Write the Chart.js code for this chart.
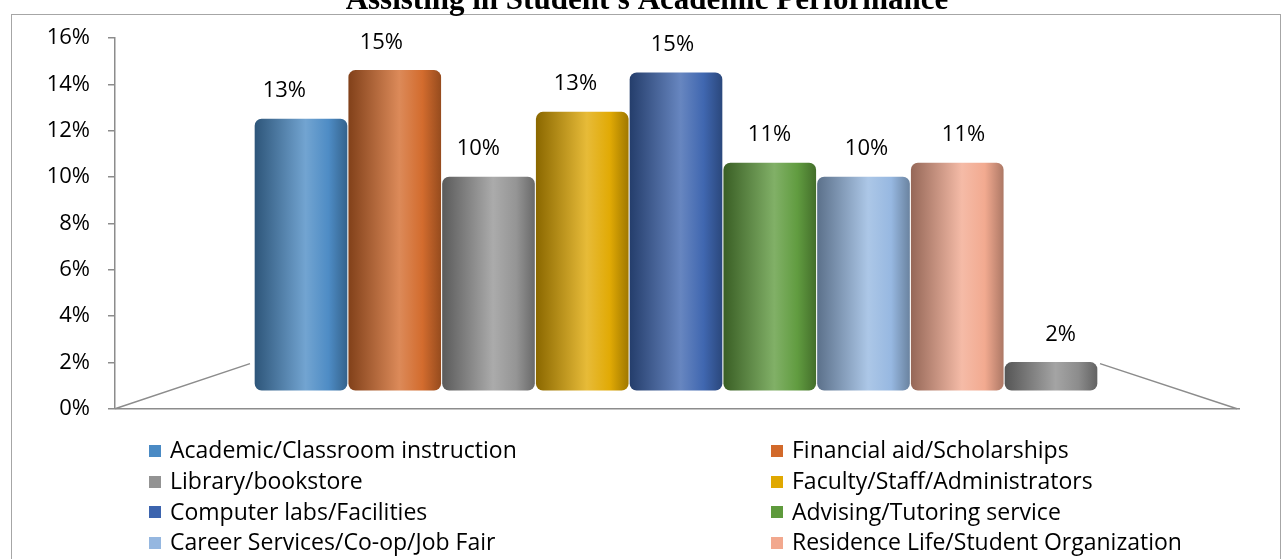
<!DOCTYPE html>
<html>
<head>
<meta charset="utf-8">
<title>Assisting in Student's Academic Performance</title>
<script src="https://cdn.jsdelivr.net/npm/chart.js@4.4.1/dist/chart.umd.min.js"></script>
<style>
  html, body { margin: 0; padding: 0; background: #fff; }
  body { width: 1282px; height: 559px; position: relative; overflow: hidden; }
  #frame { position: absolute; left: 11px; top: 14px; width: 1270px; height: 600px;
           border: 1px solid #a6a6a6; box-sizing: border-box; }
  #wrap { position: absolute; left: 0; top: 0; width: 1282px; height: 440px; }
  #legend { position: absolute; left: 0; top: 0; width: 1282px; height: 559px;
            font-family: 'Open Sans', sans-serif; font-size: 23px; color: #000; pointer-events: none; }
  .item { position: absolute; height: 30px; line-height: 30px; white-space: nowrap; }
  .item i { display: inline-block; width: 12px; height: 12px; margin-right: 9px; vertical-align: middle;
            position: relative; top: -1px; }
</style>
</head>
<body>
<div id="frame"></div>
<div id="wrap"><canvas id="grafico"></canvas></div>
<div id="legend"></div>
<script>
// --- datos ---
const chartTitle = "Assisting in Student's Academic Performance";
const categories = [
  'Academic/Classroom instruction', 'Financial aid/Scholarships',
  'Library/bookstore', 'Faculty/Staff/Administrators',
  'Computer labs/Facilities', 'Advising/Tutoring service',
  'Career Services/Co-op/Job Fair', 'Residence Life/Student Organization',
  'Other'
];
const values = [12.5, 14.6, 10.0, 12.8, 14.5, 10.6, 10.0, 10.6, 2.0];   // %
const colors = ['#4a8ac4', '#d2692a', '#939393', '#e0a800', '#3c64ae',
                '#5e9a3c', '#95b7e0', '#f2a88e', '#8a8a8a'];
const yTicks = [0, 2, 4, 6, 8, 10, 12, 14, 16];

const BAR_W = 92;

function shade(hex, f) {
  var n = parseInt(hex.slice(1), 16);
  var c = [(n >> 16) & 255, (n >> 8) & 255, n & 255];
  c = c.map(function (v) {
    return f <= 1 ? Math.round(v * f) : Math.round(v + (255 - v) * (f - 1));
  });
  return 'rgb(' + c.join(',') + ')';
}

// relleno tipo cilindro (degradado horizontal por barra)
function barFill(ctx) {
  var chart = ctx.chart, xs = chart.scales.x;
  var c = colors[ctx.dataIndex] || colors[0];
  if (!xs || ctx.dataIndex === undefined || !isFinite(xs.getPixelForValue(ctx.dataIndex))) return c;
  var cx = xs.getPixelForValue(ctx.dataIndex);
  var g = chart.ctx.createLinearGradient(cx - BAR_W / 2, 0, cx + BAR_W / 2, 0);
  g.addColorStop(0, shade(c, 0.62));
  g.addColorStop(0.55, shade(c, 1.22));
  g.addColorStop(0.8, shade(c, 1.02));
  g.addColorStop(1, shade(c, 0.72));
  return g;
}

// titulo (cortado arriba, como en la imagen)
const titlePlugin = {
  id: 'titulo',
  afterDraw: function (chart) {
    var ctx = chart.ctx;
    ctx.save();
    ctx.font = 'bold 31px "Liberation Serif", serif';
    ctx.fillStyle = '#000';
    ctx.textAlign = 'center';
    ctx.textBaseline = 'alphabetic';
    ctx.fillText(chartTitle, 647, 9);
    ctx.restore();
  }
};

// lineas del "piso" 3D
const floorPlugin = {
  id: 'piso',
  beforeDatasetsDraw: function (chart) {
    var x = chart.scales.x, y = chart.scales.y, a = chart.chartArea, ctx = chart.ctx;
    var y0 = y.getPixelForValue(0), yb = y.getPixelForValue(1.95);
    ctx.save();
    ctx.strokeStyle = '#8c8c8c';
    ctx.lineWidth = 1.5;
    ctx.beginPath();
    ctx.moveTo(a.left, y0);
    ctx.lineTo(x.getPixelForValue(0) - BAR_W / 2 - 5, yb);
    ctx.moveTo(x.getPixelForValue(values.length - 1) + BAR_W / 2 + 3, yb);
    ctx.lineTo(a.right - 3, y0);
    ctx.stroke();
    ctx.restore();
  }
};

// etiquetas de datos
const labelPlugin = {
  id: 'etiquetas',
  afterDatasetsDraw: function (chart) {
    var ctx = chart.ctx, meta = chart.getDatasetMeta(0);
    var mid = (chart.chartArea.left + chart.chartArea.right) / 2 + 100;
    ctx.save();
    ctx.font = '22px "Open Sans", sans-serif';
    ctx.fillStyle = '#000';
    ctx.textAlign = 'center';
    ctx.textBaseline = 'middle';
    meta.data.forEach(function (bar, i) {
      var dx = (bar.x - mid) * 0.035;
      ctx.fillText(Math.round(values[i]) + '%', bar.x + dx, bar.y - 28);
    });
    ctx.restore();
  }
};

var grafico = new Chart(document.getElementById('grafico'), {
  type: 'bar',
  data: {
    datasets: [{
      label: chartTitle,
      data: values.map(function (v, i) { return { x: i, y: v }; }),
      backgroundColor: barFill,
      barThickness: BAR_W,
      base: 0.8,
      borderRadius: 7,
      borderSkipped: false
    }]
  },
  options: {
    responsive: true,
    maintainAspectRatio: false,
    animation: false,
    layout: { padding: { left: 0, right: 42, top: 38, bottom: 13 } },
    plugins: { legend: { display: false }, tooltip: { enabled: false } },
    scales: {
      x: { type: 'linear', display: false, offset: false, grid: { offset: false },
           min: -1.984, max: 10.016 },
      y: {
        min: 0, max: 16,
        afterBuildTicks: function (s) { s.ticks = yTicks.map(function (v) { return { value: v }; }); },
        afterFit: function (s) { s.width = 115; },
        ticks: {
          padding: 18,
          color: '#000',
          font: { family: "'Open Sans', sans-serif", size: 22 },
          callback: function (v) { return v + '%'; }
        },
        grid: {
          tickLength: 7,
          tickColor: '#8c8c8c',
          lineWidth: 1.5,
          color: function (c) { return c.tick && c.tick.value === 0 ? '#8c8c8c' : 'rgba(0,0,0,0)'; }
        },
        border: { display: true, color: '#8c8c8c', width: 1.5 }
      }
    }
  },
  plugins: [titlePlugin, floorPlugin, labelPlugin]
});

// leyenda en dos columnas
var legend = document.getElementById('legend');
categories.forEach(function (name, i) {
  var d = document.createElement('div');
  d.className = 'item';
  d.style.left = (i % 2 === 0 ? 149 : 771) + 'px';
  d.style.top = (434 + Math.floor(i / 2) * 30.8) + 'px';
  d.innerHTML = '<i style="background:' + colors[i] + '"></i>' + name;
  legend.appendChild(d);
});
</script>
</body>
</html>
